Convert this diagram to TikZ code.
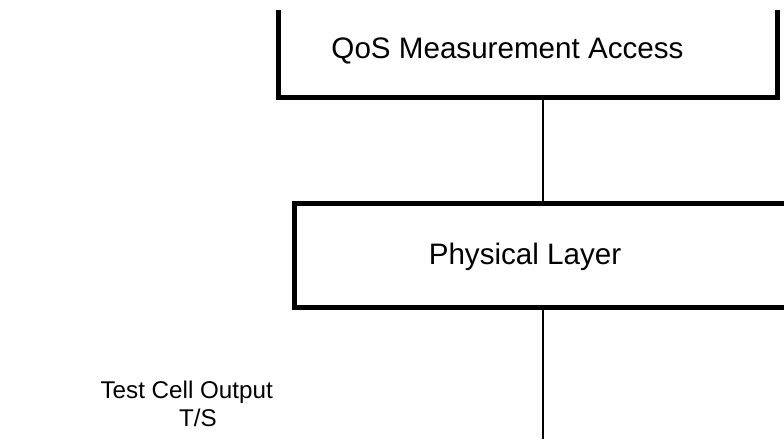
\documentclass[tikz,border=0pt]{standalone}
\usepackage{fontspec}
\setmainfont{Liberation Sans}
\begin{document}
\begin{tikzpicture}[x=1pt,y=-1pt,
  boxline/.style={line width=5pt, line join=miter},
  conn/.style={line width=2pt},
  frame/.style={draw=none, inner sep=0pt, outer sep=0pt},
  bigtext/.style={inner sep=0pt, anchor=base, font=\fontsize{29.6}{35}\selectfont},
  smalltext/.style={inner sep=0pt, anchor=base, font=\fontsize{24.2}{29}\selectfont}]
\useasboundingbox[fill=white] (0,0) rectangle (784,439);
% frames of the two boxes
\node[frame, minimum width=499pt, minimum height=87.5pt] (qos) at (527.5,53.75) {};
\node[frame, minimum width=505.5pt, minimum height=104pt] (phys) at (547.25,255.5) {};
\draw[boxline] (qos.north west) -- (qos.south west) -- (qos.south east) -- (qos.north east);
\draw[boxline] (phys.north east) -- (phys.north west) -- (phys.south west) -- (phys.south east);
% texts
\node[bigtext] (qostext) at (507.5,58.5) {QoS Measurement Access};
\node[bigtext] (phystext) at (525,264) {Physical Layer};
\node[smalltext] (tco) at (186.7,398) {Test Cell Output};
\node[smalltext] (ts) at (198,426.5) {T/S};
% connectors
\coordinate (xline) at (543,0);
\coordinate (bottomend) at (543,439);
\draw[conn] (qos.south -| xline) -- (phys.north -| xline);
\draw[conn] (phys.south -| xline) -- (bottomend);
\end{tikzpicture}
\end{document}
